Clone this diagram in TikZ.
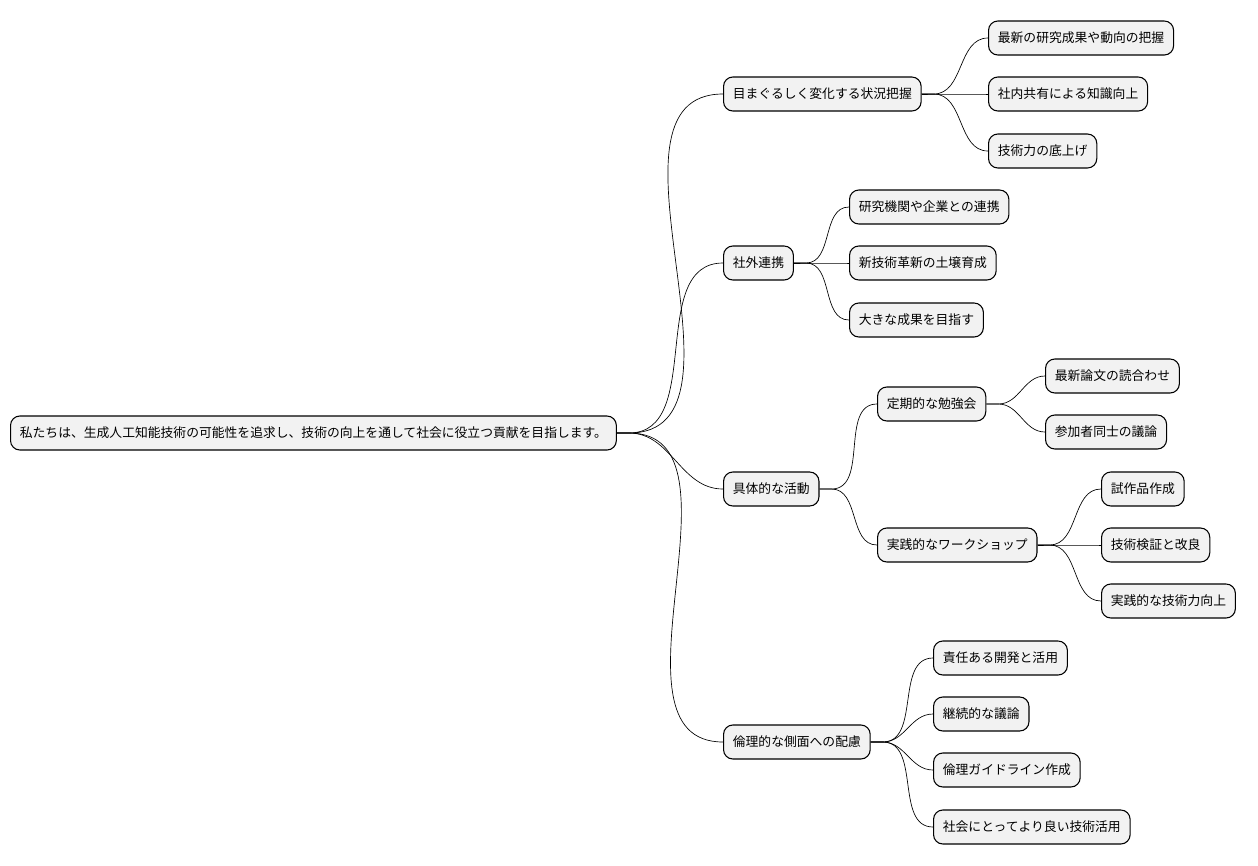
\documentclass[tikz,border=0pt]{standalone}
\usepackage{fontspec}
\setmainfont{Noto Sans CJK JP}
\begin{document}
\begin{tikzpicture}[x=0.75pt,y=-0.75pt,
    topic/.style={draw,thick,rounded corners=7pt,fill=gray!10,anchor=west,
      minimum height=25.5pt,inner xsep=7pt,font=\fontsize{9.6}{11}\selectfont},
    link/.style={draw,line width=0.5pt}]
    \useasboundingbox (0,0) rectangle (1258,865);
    % root and first level
    \node[topic] (root) at (10,433) {私たちは、生成人工知能技術の可能性を追求し、技術の向上を通して社会に役立つ貢献を目指します。};
    \node[topic] (watch) at (723,94) {目まぐるしく変化する状況把握};
    \node[topic] (extern) at (723,263) {社外連携};
    \node[topic] (acts) at (723,489) {具体的な活動};
    \node[topic] (ethics) at (723,742) {倫理的な側面への配慮};

    \node[topic] (w1) at (988,38) {最新の研究成果や動向の把握};
    \node[topic] (w2) at (988,94) {社内共有による知識向上};
    \node[topic] (w3) at (988,151) {技術力の底上げ};

    \node[topic] (e1) at (849,207) {研究機関や企業との連携};
    \node[topic] (e2) at (849,263) {新技術革新の土壌育成};
    \node[topic] (e3) at (849,320) {大きな成果を目指す};

    \node[topic] (study) at (877,404) {定期的な勉強会};
    \node[topic] (shop) at (877,545) {実践的なワークショップ};
    \node[topic] (s1) at (1045,376) {最新論文の読合わせ};
    \node[topic] (s2) at (1045,432) {参加者同士の議論};
    \node[topic] (p1) at (1101,489) {試作品作成};
    \node[topic] (p2) at (1101,545) {技術検証と改良};
    \node[topic] (p3) at (1101,601) {実践的な技術力向上};

    \node[topic] (r1) at (933,658) {責任ある開発と活用};
    \node[topic] (r2) at (933,714) {継続的な議論};
    \node[topic] (r3) at (933,770) {倫理ガイドライン作成};
    \node[topic] (r4) at (933,827) {社会にとってより良い技術活用};

    % connectors
    \foreach \p/\c in {root/watch,root/extern,root/acts,root/ethics,
        watch/w1,watch/w2,watch/w3,extern/e1,extern/e2,extern/e3,
        acts/study,acts/shop,study/s1,study/s2,shop/p1,shop/p2,shop/p3,
        ethics/r1,ethics/r2,ethics/r3,ethics/r4}
      \draw[link] (\p.east) -- ++(12,0) to[out=0,in=180] (\c.west);
\end{tikzpicture}
\end{document}
